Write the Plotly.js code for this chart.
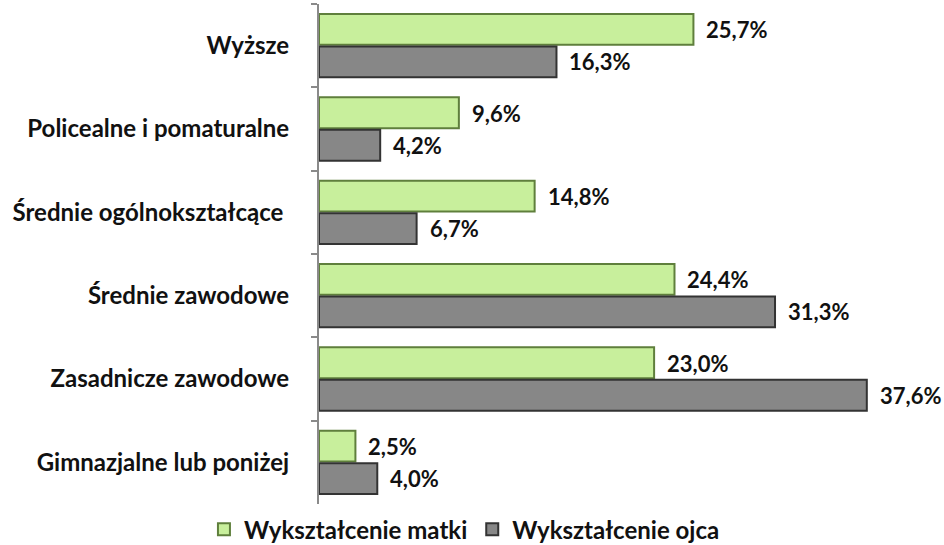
<!DOCTYPE html>
<html><head><meta charset="utf-8">
<script src="https://cdn.plot.ly/plotly-3.0.1.min.js"></script>
<style>html,body{margin:0;padding:0;background:#fff;}#chart{width:944px;height:545px;}</style>
</head><body><div id="chart"></div>
<script>
const categories = ["Wyższe","Policealne i pomaturalne","Średnie ogólnokształcące ","Średnie zawodowe","Zasadnicze zawodowe","Gimnazjalne lub poniżej"];
const mother = [25.7, 9.6, 14.8, 24.4, 23.0, 2.5];
const father = [16.3, 4.2, 6.7, 31.3, 37.6, 4.0];
const seriesNames = ["Wykształcenie matki","Wykształcenie ojca"];

const fmt = v => v.toFixed(1).replace('.', ',') + '%';
const FAM = 'Lato, "Open Sans", sans-serif';
const boldFont = {family: FAM, size: 24, color: '#111', weight: 'bold'};
const labelFont = {family: FAM, size: 22, color: '#111', weight: 'bold'};

const traces = [
  {type:'bar', orientation:'h', name:seriesNames[0], y:categories, x:mother,
   marker:{color:'#c8ef9c', line:{color:'#5f7f3c', width:2}}, hoverinfo:'skip'},
  {type:'bar', orientation:'h', name:seriesNames[1], y:categories, x:father,
   marker:{color:'#878787', line:{color:'#333333', width:2}}, hoverinfo:'skip'}
];

const annotations = [];
[[mother, 16], [father, -16]].forEach(([vals, dy]) => {
  vals.forEach((v, i) => annotations.push({
    x: v, y: categories[i], xref:'x', yref:'y', text: fmt(v), showarrow:false,
    xanchor:'left', yanchor:'middle', xshift: 11, yshift: dy, font: labelFont
  }));
});

const layout = {
  width:944, height:545,
  margin:{l:319, r:60, t:4, b:41},
  paper_bgcolor:'#fff', plot_bgcolor:'#fff',
  barmode:'group', bargap:0.22, bargroupgap:0.05,
  font:{family:FAM, size:24, color:'#111'},
  showlegend:true,
  legend:{orientation:'h', xref:'container', x:0.492, xanchor:'center',
          yref:'container', y:0.028, yanchor:'middle',
          font:boldFont, itemwidth:30, tracegroupgap:0},
  xaxis:{range:[0,38.78], showgrid:false, zeroline:false, showticklabels:false, showline:false, ticks:''},
  yaxis:{autorange:'reversed', showgrid:false, showline:true, linecolor:'#8a8a8a', linewidth:2,
         ticks:'outside', ticklen:6, tickcolor:'#8a8a8a', tickwidth:2, tickson:'boundaries',
         ticklabelstandoff:23, tickfont:boldFont},
  annotations: annotations
};
Plotly.newPlot('chart', traces, layout, {staticPlot:true, displayModeBar:false});
</script></body></html>
